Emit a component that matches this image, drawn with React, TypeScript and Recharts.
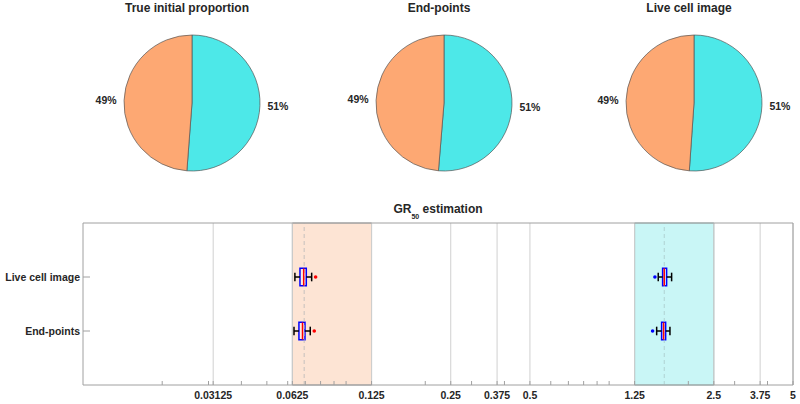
import React from 'react';
import {
  PieChart,
  Pie,
  Cell,
  ComposedChart,
  XAxis,
  YAxis,
  ReferenceArea,
  ReferenceLine,
  Scatter,
} from 'recharts';

// ---------- data ----------
const pieTitles = ['True initial proportion', 'End-points', 'Live cell image'];
const cyanShare = [51.2, 51.3, 51.1];
const orangeShare = [48.8, 48.7, 48.9];

const rows = ['Live cell image', 'End-points'];

const xDomain = [0.01, 5];
const xTickValues = [0.03125, 0.0625, 0.125, 0.25, 0.375, 0.5, 1.25, 2.5, 3.75, 5];
const xTickLabels = ['0.03125', '0.0625', '0.125', '0.25', '0.375', '0.5', '1.25', '2.5', '3.75', '5'];
const minorTicks = [
  0.02, 0.03, 0.04, 0.05, 0.06, 0.07, 0.08, 0.09, 0.1,
  0.2, 0.3, 0.4, 0.6, 0.7, 0.8, 0.9, 1, 2, 3, 4,
];

const orangeRange = [0.0625, 0.125];
const cyanRange = [1.25, 2.5];
const orangeTrue = 0.0693;
const cyanTrue = 1.62;

// box statistics per row (Live cell image, End-points)
const orangeLow = [0.0639, 0.0634];
const orangeQ1 = [0.0668, 0.0662];
const orangeMed = [0.069, 0.0683];
const orangeQ3 = [0.0706, 0.0698];
const orangeHigh = [0.074, 0.0731];
const orangeOutlier = [0.0766, 0.0757];

const cyanLow = [1.537, 1.516];
const cyanQ1 = [1.597, 1.583];
const cyanMed = [1.62, 1.611];
const cyanQ3 = [1.654, 1.64];
const cyanHigh = [1.728, 1.703];
const cyanOutlier = [1.493, 1.463];

// ---------- styles ----------
const FONT = '"Liberation Sans", Arial, Helvetica, sans-serif';
const TEXT = '#262626';
const FRAME = '#a0a0a0';
const GRID = '#d0d0d0';
const PIE_CYAN = '#4de8e8';
const PIE_ORANGE = '#fda873';
const REGION_ORANGE = '#fde4d4';
const REGION_CYAN = '#c9f6f6';
const OUTLIER_COLORS = ['#ff0000', '#0000ff'];

const rowY = (i: number) => rows.length - i;
const yTicks = rows.map((_, i) => rowY(i));
const allTicks = [...minorTicks, ...xTickValues].sort((a, b) => a - b);

const BOX_H = 0.16;
const CAP_H = 0.08;

const RADIAN = Math.PI / 180;
const renderPieLabel = (p: any) => {
  const r = p.outerRadius + 18;
  const x = p.cx + r * Math.cos(-p.midAngle * RADIAN);
  const y = p.cy + r * Math.sin(-p.midAngle * RADIAN);
  return (
    <text
      x={x}
      y={y}
      textAnchor="middle"
      dominantBaseline="central"
      fontFamily={FONT}
      fontSize={10.5}
      fontWeight="bold"
      fill={TEXT}
    >
      {`${Math.round(p.percent * 100)}%`}
    </text>
  );
};

const XTick = (props: any) => {
  const { x, y, payload } = props;
  const i = xTickValues.findIndex((v) => Math.abs(v - payload.value) < 1e-9);
  if (i < 0) return <g />;
  return (
    <text
      x={x}
      y={y}
      dy="0.71em"
      textAnchor="middle"
      fontFamily={FONT}
      fontSize={10.5}
      fontWeight="bold"
      fill={TEXT}
    >
      {xTickLabels[i]}
    </text>
  );
};

const YTick = (props: any) => {
  const { x, y, payload } = props;
  const label = rows[rows.length - payload.value] ?? '';
  return (
    <text
      x={x}
      y={y}
      dy="0.355em"
      textAnchor="end"
      fontFamily={FONT}
      fontSize={10.5}
      fontWeight="bold"
      fill={TEXT}
    >
      {label}
    </text>
  );
};

const pieCenters = [187, 439, 689];

function boxElements(
  key: string,
  low: number[],
  q1: number[],
  med: number[],
  q3: number[],
  high: number[]
) {
  const out: any[] = [];
  rows.forEach((_, i) => {
    const y = rowY(i);
    out.push(
      <ReferenceLine
        key={`${key}-wl-${i}`}
        segment={[{ x: low[i], y }, { x: q1[i], y }]}
        stroke="#000"
        strokeWidth={1.5}
        ifOverflow="visible"
      />,
      <ReferenceLine
        key={`${key}-wh-${i}`}
        segment={[{ x: q3[i], y }, { x: high[i], y }]}
        stroke="#000"
        strokeWidth={1.5}
        ifOverflow="visible"
      />,
      <ReferenceLine
        key={`${key}-cl-${i}`}
        segment={[{ x: low[i], y: y - CAP_H }, { x: low[i], y: y + CAP_H }]}
        stroke="#000"
        strokeWidth={1.5}
        ifOverflow="visible"
      />,
      <ReferenceLine
        key={`${key}-ch-${i}`}
        segment={[{ x: high[i], y: y - CAP_H }, { x: high[i], y: y + CAP_H }]}
        stroke="#000"
        strokeWidth={1.5}
        ifOverflow="visible"
      />,
      <ReferenceArea
        key={`${key}-box-${i}`}
        x1={q1[i]}
        x2={q3[i]}
        y1={y - BOX_H}
        y2={y + BOX_H}
        fill="#ffffff"
        fillOpacity={0.35}
        stroke="#0000ff"
        strokeWidth={1.5}
        ifOverflow="visible"
      />,
      <ReferenceLine
        key={`${key}-med-${i}`}
        segment={[{ x: med[i], y: y - BOX_H }, { x: med[i], y: y + BOX_H }]}
        stroke="#ff0000"
        strokeWidth={1.5}
        ifOverflow="visible"
      />
    );
  });
  return out;
}

const outlierData = [
  ...rows.map((_, i) => ({ x: orangeOutlier[i], y: rowY(i), g: 0 })),
  ...rows.map((_, i) => ({ x: cyanOutlier[i], y: rowY(i), g: 1 })),
];

const OutlierDot = (props: any) => (
  <circle cx={props.cx} cy={props.cy} r={1.8} fill={OUTLIER_COLORS[props.payload.g]} />
);

export default function App() {
  const titleStyle: React.CSSProperties = {
    position: 'absolute',
    top: 2,
    width: 240,
    textAlign: 'center',
    fontFamily: FONT,
    fontSize: 12,
    lineHeight: '12px',
    fontWeight: 'bold',
    color: TEXT,
    whiteSpace: 'nowrap',
  };
  return (
    <div
      style={{
        position: 'absolute',
        left: 0,
        top: 0,
        width: 800,
        height: 404,
        background: '#fff',
        overflow: 'hidden',
      }}
    >
      {/* pies */}
      <div style={{ position: 'absolute', left: 0, top: 0 }}>
        <PieChart width={800} height={200}>
          {pieTitles.map((t, k) => (
            <Pie
              key={t}
              data={[
                { name: 'cyan', value: cyanShare[k] },
                { name: 'orange', value: orangeShare[k] },
              ]}
              dataKey="value"
              cx={pieCenters[k]}
              cy={98}
              outerRadius={68}
              startAngle={90}
              endAngle={-270}
              stroke="#555555"
              strokeWidth={0.7}
              label={renderPieLabel}
              labelLine={false}
              isAnimationActive={false}
            >
              <Cell fill={PIE_CYAN} />
              <Cell fill={PIE_ORANGE} />
            </Pie>
          ))}
        </PieChart>
      </div>
      {pieTitles.map((t, k) => (
        <div key={t} style={{ ...titleStyle, left: pieCenters[k] - 120 }}>
          {t}
        </div>
      ))}

      {/* box plot */}
      <div style={{ position: 'absolute', left: 0, top: 200 }}>
        <ComposedChart
          width={800}
          height={204}
          margin={{ top: 22, right: 0, bottom: 0, left: 0 }}
        >
          <XAxis
            dataKey="x"
            type="number"
            scale="log"
            domain={xDomain}
            allowDataOverflow
            ticks={allTicks}
            interval={0}
            tick={<XTick />}
            tickSize={-4}
            tickMargin={10.5}
            height={19}
            axisLine={{ stroke: FRAME }}
            tickLine={{ stroke: FRAME }}
          />
          <XAxis
            xAxisId="top"
            orientation="top"
            dataKey="x"
            type="number"
            scale="log"
            domain={xDomain}
            allowDataOverflow
            ticks={allTicks}
            interval={0}
            tick={false}
            tickSize={-4}
            height={1}
            axisLine={{ stroke: FRAME }}
            tickLine={{ stroke: FRAME }}
          />
          <YAxis
            dataKey="y"
            type="number"
            domain={[0, 3]}
            allowDataOverflow
            ticks={yTicks}
            interval={0}
            width={83}
            tickSize={-7}
            tickMargin={10}
            tick={<YTick />}
            axisLine={{ stroke: FRAME }}
            tickLine={{ stroke: FRAME }}
          />
          <YAxis
            yAxisId="right"
            orientation="right"
            dataKey="y"
            type="number"
            domain={[0, 3]}
            allowDataOverflow
            ticks={yTicks}
            interval={0}
            width={7}
            tick={false}
            tickSize={-7}
            axisLine={{ stroke: FRAME }}
            tickLine={{ stroke: FRAME }}
          />

          {xTickValues.map((v) => (
            <ReferenceLine key={`g-${v}`} x={v} stroke={GRID} strokeWidth={1} />
          ))}

          <ReferenceArea
            x1={orangeRange[0]}
            x2={orangeRange[1]}
            y1={0}
            y2={3}
            fill={REGION_ORANGE}
            fillOpacity={1}
            stroke="#9a9a9a"
            strokeWidth={1}
          />
          <ReferenceArea
            x1={cyanRange[0]}
            x2={cyanRange[1]}
            y1={0}
            y2={3}
            fill={REGION_CYAN}
            fillOpacity={1}
            stroke="#8fb0b0"
            strokeWidth={1}
          />
          <ReferenceLine x={orangeTrue} stroke="#b8b8b8" strokeDasharray="4 3" strokeWidth={0.8} />
          <ReferenceLine x={cyanTrue} stroke="#a8c8c8" strokeDasharray="4 3" strokeWidth={0.8} />

          {boxElements('o', orangeLow, orangeQ1, orangeMed, orangeQ3, orangeHigh)}
          {boxElements('c', cyanLow, cyanQ1, cyanMed, cyanQ3, cyanHigh)}

          <Scatter data={outlierData} shape={<OutlierDot />} isAnimationActive={false} />
        </ComposedChart>
      </div>

      <div
        style={{
          position: 'absolute',
          left: 83,
          top: 203,
          width: 710,
          textAlign: 'center',
          fontFamily: FONT,
          fontSize: 12,
          lineHeight: '12px',
          fontWeight: 'bold',
          color: TEXT,
          whiteSpace: 'nowrap',
        }}
      >
        GR
        <span style={{ fontSize: 7, position: 'relative', top: 6 }}>50</span> estimation
      </div>
    </div>
  );
}
